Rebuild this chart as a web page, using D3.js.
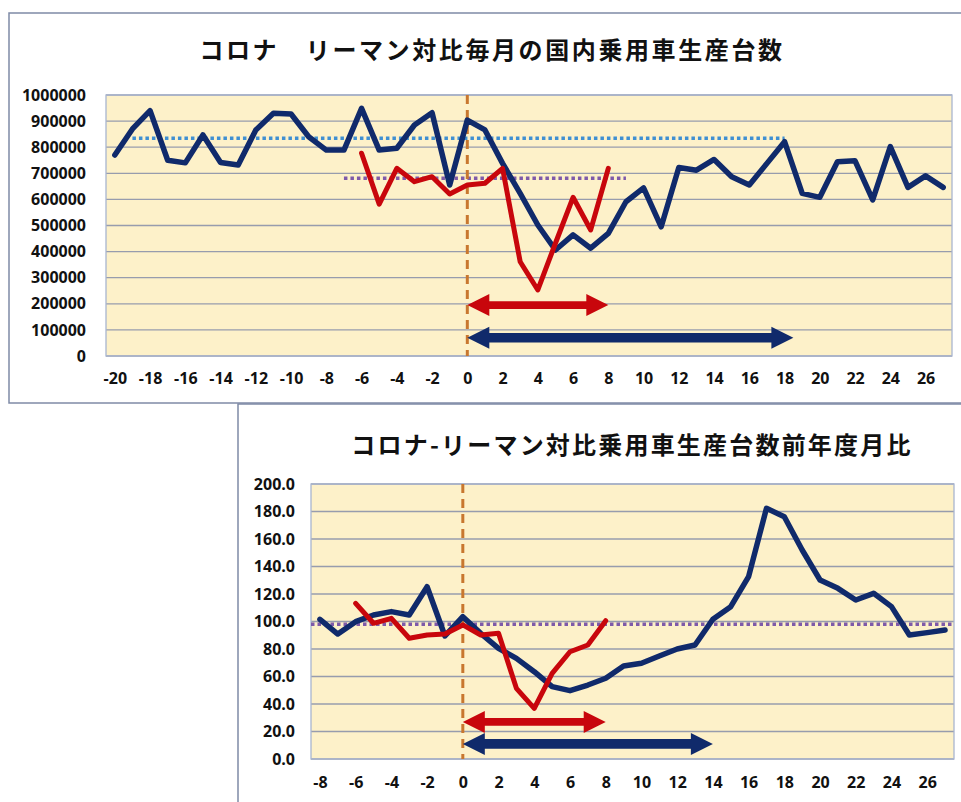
<!DOCTYPE html>
<html lang="ja">
<head>
<meta charset="utf-8">
<style>
html, body {
    margin: 0;
    padding: 0;
    background: #fff;
}
svg {
    display: block;
}
.tick text {
    font-family: "Open Sans", "Liberation Sans", sans-serif;
    font-weight: bold;
    fill: #111;
}
.title {
    font-family: "Noto Sans CJK JP", sans-serif;
    font-weight: bold;
    fill: #111;
}
</style>
</head>
<body>
<svg width="961" height="802"></svg>

<script src="https://cdn.jsdelivr.net/npm/d3@7"></script>
<script>
// 上のグラフ：毎月の国内乗用車生産台数
var months1 = [-20, -19, -18, -17, -16, -15, -14, -13, -12, -11, -10, -9, -8, -7, -6, -5, -4, -3, -2, -1,
    0, 1, 2, 3, 4, 5, 6, 7, 8, 9, 10, 11, 12, 13, 14, 15, 16, 17, 18, 19, 20, 21, 22, 23, 24, 25, 26, 27];
var lehman1 = [770000, 870000, 940000, 750000, 740000, 847000, 741000, 732000, 866000, 930000, 927000, 840000,
    789000, 789000, 949000, 789000, 796000, 885000, 932000, 655000,
    904000, 866000, 738000, 623000, 502000, 406000, 464000, 413000, 470000, 591000,
    644000, 495000, 722000, 712000, 753000, 687000, 655000, 738000, 821000, 623000,
    608000, 744000, 748000, 598000, 802000, 646000, 690000, 646000];
var coronaMonths1 = [-6, -5, -4, -3, -2, -1, 0, 1, 2, 3, 4, 5, 6, 7, 8];
var corona1 = [777000, 582000, 719000, 668000, 687000, 621000, 655000, 662000, 719000, 361000, 253000, 432000, 608000, 483000, 719000];
var lehmanAvg1 = {from: -19, to: 18, value: 834000};
var coronaAvg1 = {from: -7, to: 9, value: 681000};
var yTicks1 = [0, 100000, 200000, 300000, 400000, 500000, 600000, 700000, 800000, 900000, 1000000];
var xTicks1 = [-20, -18, -16, -14, -12, -10, -8, -6, -4, -2, 0, 2, 4, 6, 8, 10, 12, 14, 16, 18, 20, 22, 24, 26];
var arrows1 = [
    {from: 0, to: 8, value: 195000, color: "red"},
    {from: 0, to: 18.5, value: 70000, color: "navy"}
];

// 下のグラフ：前年度月比
var months2 = [-8, -7, -6, -5, -4, -3, -2, -1, 0, 1, 2, 3, 4, 5, 6, 7, 8, 9,
    10, 11, 12, 13, 14, 15, 16, 17, 18, 19, 20, 21, 22, 23, 24, 25, 26, 27];
var lehman2 = [101.6, 90.9, 99.9, 104.7, 107.2, 104.7, 125.3, 89.5,
    103.5, 91.4, 80.5, 73.2, 63.5, 52.6, 49.7, 53.8, 58.7, 67.6,
    69.6, 74.9, 80.0, 82.9, 101.6, 110.8, 132.6, 182.3, 176.2, 152.0,
    130.2, 124.1, 115.6, 120.5, 110.8, 90.2, 91.9, 93.8];
var coronaMonths2 = [-6, -5, -4, -3, -2, -1, 0, 1, 2, 3, 4, 5, 6, 7, 8];
var corona2 = [113.2, 98.7, 102.3, 87.8, 90.2, 90.9, 97.5, 90.2, 91.4, 51.4, 36.8, 62.3, 78.0, 82.9, 100.6];
var baseLine2 = {from: -8.5, to: 27.5, value: 98};
var yTicks2 = [0, 20, 40, 60, 80, 100, 120, 140, 160, 180, 200];
var xTicks2 = [-8, -6, -4, -2, 0, 2, 4, 6, 8, 10, 12, 14, 16, 18, 20, 22, 24, 26];
var arrows2 = [
    {from: 0, to: 8, value: 27, color: "red"},
    {from: 0, to: 14, value: 11, color: "navy"}
];

var NAVY = "#102a6b";
var RED = "#c8060c";
var colors = {red: RED, navy: NAVY};

var svg = d3.select("svg");

// 外枠
svg.append("rect").attr("x", 9).attr("y", 13).attr("width", 970).attr("height", 390)
    .attr("fill", "#fff").attr("stroke", "#7f8aa6").attr("stroke-width", 1.5);
svg.append("rect").attr("x", 238).attr("y", 404).attr("width", 740).attr("height", 420)
    .attr("fill", "#fff").attr("stroke", "#7f8aa6").attr("stroke-width", 1.5);

function drawChart(opt) {
    var g = svg.append("g");
    var x = d3.scaleLinear()
        .domain([opt.xMin - 0.5, opt.xMax + 0.5])
        .range([opt.left, opt.right]);
    var y = d3.scaleLinear()
        .domain([0, opt.yMax])
        .range([opt.bottom, opt.top]);

    g.append("rect")
        .attr("x", opt.left).attr("y", opt.top)
        .attr("width", opt.right - opt.left).attr("height", opt.bottom - opt.top)
        .attr("fill", "#fdf1c9");

    // グリッド
    g.selectAll(".grid").data(opt.yTicks).enter().append("line")
        .attr("x1", opt.left).attr("x2", opt.right)
        .attr("y1", function(d){ return y(d) }).attr("y2", function(d){ return y(d) })
        .attr("stroke", "#979cad").attr("stroke-width", 1.3);

    g.append("rect")
        .attr("x", opt.left).attr("y", opt.top)
        .attr("width", opt.right - opt.left).attr("height", opt.bottom - opt.top)
        .attr("fill", "none").attr("stroke", "#a9b6d0").attr("stroke-width", 1.3);

    var yAxis = d3.axisLeft(y).tickValues(opt.yTicks).tickSize(0).tickPadding(opt.yPad)
        .tickFormat(opt.yFormat);
    g.append("g").attr("transform", "translate(" + opt.left + ",0)").call(yAxis)
        .call(function(a){ a.select(".domain").remove() })
        .selectAll("text").style("font-size", "16px");

    var xAxis = d3.axisBottom(x).tickValues(opt.xTicks).tickSize(0).tickPadding(opt.xPad)
        .tickFormat(function(d){ return String(d) });
    g.append("g").attr("transform", "translate(0," + opt.bottom + ")").call(xAxis)
        .call(function(a){ a.select(".domain").remove() })
        .selectAll("text").style("font-size", "16px");

    // 平均線（点線）
    opt.refs.forEach(function(r){
        g.append("line")
            .attr("x1", x(r.from)).attr("x2", x(r.to))
            .attr("y1", y(r.value)).attr("y2", y(r.value))
            .attr("stroke", r.color).attr("stroke-width", 3.5)
            .attr("stroke-dasharray", "3.5,3");
    });

    // 0ヶ月の縦線
    g.append("line")
        .attr("x1", x(0)).attr("x2", x(0))
        .attr("y1", opt.top).attr("y2", opt.bottom)
        .attr("stroke", "#c8772f").attr("stroke-width", 3)
        .attr("stroke-dasharray", "9,6");

    var line = d3.line()
        .x(function(d){ return x(d[0]) })
        .y(function(d){ return y(d[1]) });

    g.append("path")
        .attr("d", line(d3.zip(opt.months, opt.lehman)))
        .attr("fill", "none").attr("stroke", NAVY).attr("stroke-width", 5.5)
        .attr("stroke-linejoin", "round").attr("stroke-linecap", "round");

    g.append("path")
        .attr("d", line(d3.zip(opt.coronaMonths, opt.corona)))
        .attr("fill", "none").attr("stroke", RED).attr("stroke-width", 5)
        .attr("stroke-linejoin", "round").attr("stroke-linecap", "round");

    // 矢印
    opt.arrows.forEach(function(a){
        var x0 = x(a.from), x1 = x(a.to), yc = y(a.value);
        var hl = 22, hh = 11, sh = a.color == "red" ? 3.8 : 4.8;
        var p = d3.path();
        p.moveTo(x0, yc);
        p.lineTo(x0 + hl, yc - hh);
        p.lineTo(x0 + hl, yc - sh);
        p.lineTo(x1 - hl, yc - sh);
        p.lineTo(x1 - hl, yc - hh);
        p.lineTo(x1, yc);
        p.lineTo(x1 - hl, yc + hh);
        p.lineTo(x1 - hl, yc + sh);
        p.lineTo(x0 + hl, yc + sh);
        p.lineTo(x0 + hl, yc + hh);
        p.closePath();
        g.append("path").attr("d", p.toString()).attr("fill", colors[a.color]);
    });

    g.append("text").attr("class", "title")
        .attr("x", opt.titleX).attr("y", opt.titleY)
        .attr("text-anchor", "middle")
        .style("font-size", "24px").style("letter-spacing", opt.titleSpacing)
        .text(opt.title);
}

drawChart({
    left: 106, right: 952, top: 95, bottom: 356,
    xMin: -20, xMax: 27, yMax: 1000000,
    months: months1, lehman: lehman1, coronaMonths: coronaMonths1, corona: corona1,
    yTicks: yTicks1, xTicks: xTicks1, yFormat: d3.format("d"), yPad: 20, xPad: 17,
    refs: [
        {from: lehmanAvg1.from, to: lehmanAvg1.to, value: lehmanAvg1.value, color: "#3f8fd2"},
        {from: coronaAvg1.from, to: coronaAvg1.to, value: coronaAvg1.value, color: "#7e5aa9"}
    ],
    arrows: arrows1,
    title: "コロナ　リーマン対比毎月の国内乗用車生産台数", titleX: 492, titleY: 59, titleSpacing: "2.6px"
});

drawChart({
    left: 311, right: 954, top: 484, bottom: 759,
    xMin: -8, xMax: 27, yMax: 200,
    months: months2, lehman: lehman2, coronaMonths: coronaMonths2, corona: corona2,
    yTicks: yTicks2, xTicks: xTicks2, yFormat: d3.format(".1f"), yPad: 16, xPad: 18,
    refs: [
        {from: baseLine2.from, to: baseLine2.to, value: baseLine2.value, color: "#7e5aa9"}
    ],
    arrows: arrows2,
    title: "コロナ-リーマン対比乗用車生産台数前年度月比", titleX: 632, titleY: 454, titleSpacing: "2.2px"
});
</script>
</body>
</html>
